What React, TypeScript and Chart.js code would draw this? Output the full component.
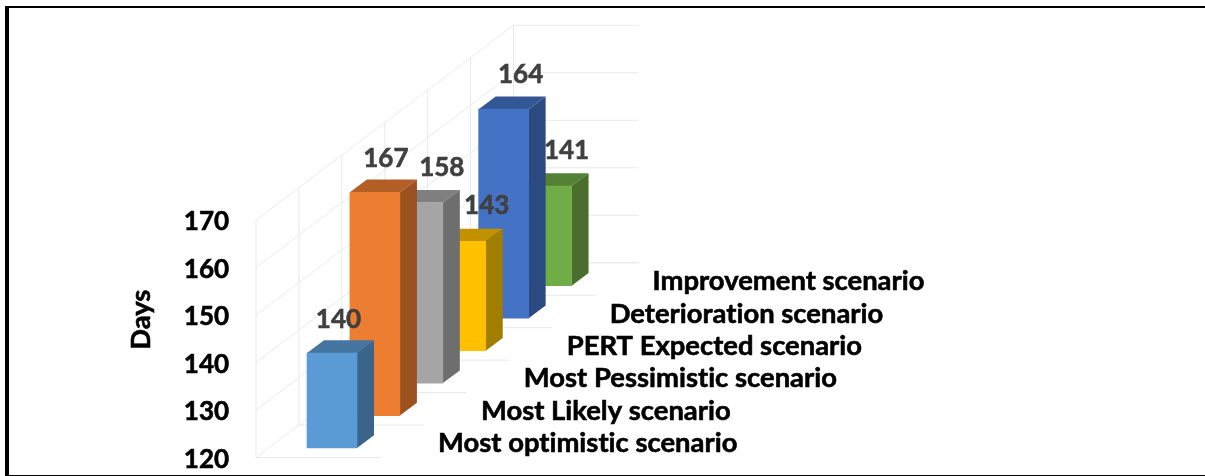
import React, { useEffect, useRef } from "react";
import { Chart, registerables } from "chart.js";

Chart.register(...registerables);

const categories = [
  "Most optimistic scenario",
  "Most Likely scenario",
  "Most Pessimistic scenario",
  "PERT Expected scenario",
  "Deterioration scenario",
  "Improvement scenario",
];
const days = [140, 167, 158, 143, 164, 141];
const frontColors = ["#5B9BD5", "#ED7D31", "#A5A5A5", "#FFC000", "#4472C4", "#70AD47"];
const topColors = ["#4576A2", "#B35E25", "#7F7F7F", "#C19100", "#335695", "#548235"];
const sideColors = ["#3A6489", "#9B5120", "#6E6E6E", "#A27E00", "#2B4A80", "#4A6E2C"];
const axisMin = 120;
const axisMax = 170;
const axisStep = 10;
const axisTitle = "Days";

// Picture settings of the oblique projection
const DEPTH_STEP_Y = 32.45;
const BAR_DEPTH_X = 17;
const BAR_DEPTH_Y = 12.7;
const BAR_LIFT = 9.5;
const WALL_LEFT_OFFSET = 76;
const FLOOR_WIDTH = 125;
const NUMBER_FONT = "bold 26px Lato";
const NAME_FONT = "bold 27.4px Lato";
const GRID = "#e9e9e9";
const TEXT_WEIGHT_STROKE = 0.6;
const TICK_SHIFT_Y = 2;
const valueNudgeX = [6.5, 11, 24, 26, 17, 20];
const valueNudgeY = [-33, -34, -34.5, -36, -35, -35.5];
const nameOffsetX = 106;
const nameOffsetY = -4.5;

function poly(ctx: CanvasRenderingContext2D, pts: number[][], color: string) {
  ctx.beginPath();
  pts.forEach((p, i) => (i ? ctx.lineTo(p[0], p[1]) : ctx.moveTo(p[0], p[1])));
  ctx.closePath();
  ctx.fillStyle = color;
  ctx.fill();
}

function seg(ctx: CanvasRenderingContext2D, a: number, b: number, c: number, d: number) {
  ctx.beginPath();
  ctx.moveTo(a, b);
  ctx.lineTo(c, d);
  ctx.stroke();
}

function heavyText(ctx: CanvasRenderingContext2D, text: string, x: number, y: number, color: string) {
  ctx.fillStyle = color;
  ctx.strokeStyle = color;
  ctx.lineWidth = TEXT_WEIGHT_STROKE;
  ctx.fillText(text, x, y);
  ctx.strokeText(text, x, y);
}

const oblique3d = {
  id: "oblique3d",
  beforeDraw(chart: any) {
    // The axis layer only: undone in beforeDatasetsDraw
    chart.ctx.save();
    chart.ctx.translate(0, TICK_SHIFT_Y);
  },
  beforeDatasetsDraw(chart: any) {
    const { ctx, scales } = chart;
    ctx.restore();
    const x = scales.x;
    const y = scales.y;
    const n = categories.length;
    const stepX = x.getPixelForValue(1) - x.getPixelForValue(0);
    const left = x.getPixelForValue(0) - WALL_LEFT_OFFSET;
    const floorY = y.getPixelForValue(axisMin);
    const topY = y.getPixelForValue(axisMax);
    ctx.save();
    ctx.strokeStyle = GRID;
    ctx.lineWidth = 1;
    for (let v = axisMin; v <= axisMax; v += axisStep) {
      const py = y.getPixelForValue(v);
      const bx = left + n * stepX;
      const by = py - n * DEPTH_STEP_Y;
      seg(ctx, left, py, bx, by);
      seg(ctx, bx, by, bx + FLOOR_WIDTH, by);
    }
    for (let k = 0; k <= n; k++) {
      const px = left + k * stepX;
      const off = k * DEPTH_STEP_Y;
      seg(ctx, px, floorY - off, px, topY - off);
      seg(ctx, px, floorY - off, px + FLOOR_WIDTH, floorY - off);
    }
    ctx.restore();
  },
  beforeDatasetDraw(chart: any, args: any) {
    const { ctx } = chart;
    const els = args.meta.data;
    ctx.save();
    for (let i = els.length - 1; i >= 0; i--) {
      const el = els[i];
      const lift = BAR_LIFT + i * DEPTH_STEP_Y;
      const l = el.x - el.width / 2;
      const r = el.x + el.width / 2;
      const t = el.y - lift;
      const b = el.base - lift;
      poly(ctx, [[l, t], [l + BAR_DEPTH_X, t - BAR_DEPTH_Y], [r + BAR_DEPTH_X, t - BAR_DEPTH_Y], [r, t]], topColors[i]);
      poly(ctx, [[r, t], [r + BAR_DEPTH_X, t - BAR_DEPTH_Y], [r + BAR_DEPTH_X, b - BAR_DEPTH_Y], [r, b]], sideColors[i]);
      ctx.save();
      ctx.translate(0, -lift);
      el.draw(ctx);
      ctx.restore();
    }
    ctx.restore();
    return false;
  },
  afterDatasetsDraw(chart: any) {
    const { ctx, scales } = chart;
    const els = chart.getDatasetMeta(0).data;
    ctx.save();
    ctx.textBaseline = "middle";
    ctx.letterSpacing = "0.01px";
    els.forEach((el: any, i: number) => {
      const lift = BAR_LIFT + i * DEPTH_STEP_Y;
      ctx.font = NUMBER_FONT;
      ctx.textAlign = "center";
      heavyText(ctx, String(days[i]), el.x + valueNudgeX[i], el.y - lift + valueNudgeY[i], "#404040");
      ctx.font = NAME_FONT;
      ctx.textAlign = "left";
      heavyText(ctx, categories[i], el.x + nameOffsetX, el.base - lift + nameOffsetY, "#000000");
    });
    ctx.font = NAME_FONT;
    ctx.translate(141.5, scales.y.getPixelForValue(149));
    ctx.rotate(-Math.PI / 2);
    ctx.textAlign = "center";
    heavyText(ctx, axisTitle, 0, 0, "#000000");
    ctx.restore();
  },
};

export default function App() {
  const ref = useRef<HTMLCanvasElement>(null);
  useEffect(() => {
    document.body.style.margin = "0";
    document.body.style.overflow = "hidden";
    const chart = new Chart(ref.current as HTMLCanvasElement, {
      type: "bar",
      data: {
        labels: categories,
        datasets: [
          {
            label: axisTitle,
            data: days,
            base: axisMin,
            backgroundColor: frontColors,
            barThickness: 50,
            borderWidth: 0,
          },
        ],
      },
      options: {
        animation: false,
        responsive: false,
        devicePixelRatio: 1,
        layout: { padding: { top: 220, bottom: 18.5, right: 637, left: 0 } },
        plugins: { legend: { display: false }, tooltip: { enabled: false } },
        scales: {
          x: {
            display: false,
          },
          y: {
            min: axisMin,
            max: axisMax,
            afterFit: (s: any) => {
              s.width = 310.55;
              s.paddingTop = 0;
              s.paddingBottom = 0;
            },
            ticks: {
              stepSize: axisStep,
              padding: 81.5,
              color: "#000000",
              textStrokeColor: "#000000",
              textStrokeWidth: TEXT_WEIGHT_STROKE,
              font: { family: "Lato", size: 26, weight: "bold" },
            },
            grid: { display: false, drawTicks: false },
            border: { display: false },
          },
        },
      },
      plugins: [oblique3d],
    } as any);
    return () => chart.destroy();
  }, []);
  return (
    <div style={{ position: "absolute", left: 0, top: 0, width: 1205, height: 476, overflow: "hidden", background: "#fff" }}>
      <canvas ref={ref} width={1205} height={476} style={{ position: "absolute", left: 0, top: 0 }} />
      <div
        style={{
          position: "absolute",
          left: 5,
          top: 6,
          width: 1200,
          height: 470,
          boxSizing: "border-box",
          borderLeft: "4px solid #000",
          borderTop: "2.5px solid #000",
          borderBottom: "1px solid #000",
        }}
      />
    </div>
  );
}
